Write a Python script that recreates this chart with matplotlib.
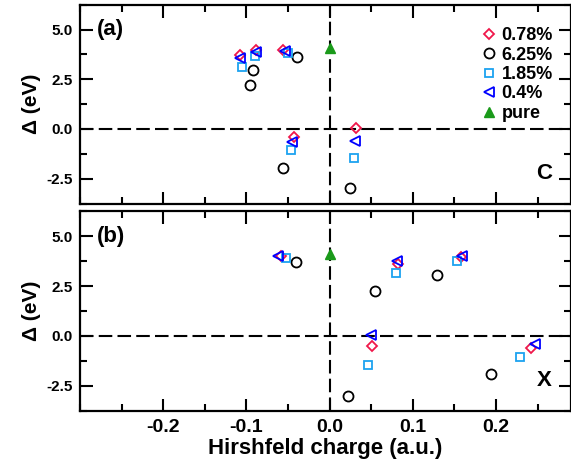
import matplotlib
matplotlib.use("Agg")
import matplotlib.pyplot as plt
from matplotlib.ticker import MultipleLocator

plt.rcParams['font.family'] = ['Liberation Sans', 'DejaVu Sans']
plt.rcParams['font.weight'] = 'bold'

# Panel (a): C
a_x_078 = [-0.108, -0.088, -0.056, -0.043, 0.032]
a_y_078 = [3.72, 3.96, 3.96, -0.38, 0.03]
a_x_625 = [-0.092, -0.096, -0.039, -0.056, 0.024]
a_y_625 = [2.97, 2.19, 3.62, -1.94, -2.97]
a_x_185 = [-0.105, -0.090, -0.050, -0.046, 0.029]
a_y_185 = [3.12, 3.67, 3.82, -1.06, -1.48]
a_x_04 = [-0.108, -0.089, -0.054, -0.045, 0.031]
a_y_04 = [3.55, 3.88, 3.91, -0.66, -0.58]
a_x_pure = [0.0]
a_y_pure = [4.08]

# Panel (b): X
b_x_078 = [-0.059, 0.082, 0.158, 0.051, 0.2415]
b_y_078 = [3.99, 3.59, 3.94, -0.52, -0.60]
b_x_625 = [-0.041, 0.054, 0.129, 0.022, 0.194]
b_y_625 = [3.69, 2.25, 3.03, -2.98, -1.92]
b_x_185 = [-0.053, 0.080, 0.153, 0.046, 0.229]
b_y_185 = [3.89, 3.15, 3.75, -1.46, -1.04]
b_x_04 = [-0.062, 0.081, 0.1595, 0.050, 0.247]
b_y_04 = [4.02, 3.75, 4.00, 0.04, -0.38]
b_x_pure = [0.0]
b_y_pure = [4.12]

labels = ['0.78%', '6.25%', '1.85%', '0.4%', 'pure']
xticks = [-0.2, -0.1, 0.0, 0.1, 0.2]
xticklabels = ['-0.2', '-0.1', '0.0', '0.1', '0.2']
yticks = [-2.5, 0.0, 2.5, 5.0]
yticklabels = ['-2.5', '0.0', '2.5', '5.0']

styles = [
    dict(marker='D', ms=5.5, mfc='none', mec='#f0174a', mew=1.3, ls='none'),
    dict(marker='o', ms=7.2, mfc='none', mec='black', mew=1.3, ls='none'),
    dict(marker='s', ms=6, mfc='none', mec='#1ca3f0', mew=1.3, ls='none'),
    dict(marker='<', ms=7.5, mfc='none', mec='#0000ff', mew=1.3, ls='none'),
    dict(marker='^', ms=6.5, mfc='#1a9a1a', mec='#1a9a1a', mew=1.0, ls='none'),
]

fig = plt.figure(figsize=(5.71, 4.68), dpi=100)
ax1 = fig.add_axes([0.140, 0.565, 0.860, 0.425])
ax2 = fig.add_axes([0.140, 0.122, 0.860, 0.427])

panels = [
    (ax1, [(a_x_078, a_y_078), (a_x_625, a_y_625), (a_x_185, a_y_185), (a_x_04, a_y_04), (a_x_pure, a_y_pure)], '(a)', 'C'),
    (ax2, [(b_x_078, b_y_078), (b_x_625, b_y_625), (b_x_185, b_y_185), (b_x_04, b_y_04), (b_x_pure, b_y_pure)], '(b)', 'X'),
]

for ax, series, tag, elem in panels:
    ax.axhline(0, color='black', lw=1.5, ls=(0, (6.5, 2.5)), zorder=1)
    ax.axvline(0, color='black', lw=1.5, ls=(0, (6.5, 2.5)), zorder=1)
    for (xs, ys), st, lab in zip(series, styles, labels):
        ax.plot(xs, ys, label=lab, zorder=3, **st)
    ax.set_xlim(-0.3, 0.29)
    ax.set_ylim(-3.75, 6.25)
    ax.set_xticks(xticks)
    ax.xaxis.set_minor_locator(MultipleLocator(0.05))
    ax.set_yticks(yticks)
    ax.set_yticklabels(yticklabels)
    ax.yaxis.set_minor_locator(MultipleLocator(1.25))
    ax.tick_params(which='both', direction='in', top=True, right=True, width=1.5)
    ax.tick_params(which='major', length=9)
    ax.tick_params(which='minor', length=5)
    ax.tick_params(axis='y', labelsize=11, pad=5)
    for s in ax.spines.values():
        s.set_linewidth(1.6)
    ax.set_ylabel('Δ (eV)', fontsize=15, fontweight='bold', labelpad=4)
    ax.text(0.035, 0.875, tag, transform=ax.transAxes, fontsize=16,
            fontweight='bold', va='center', ha='left')
    ax.text(0.945, 0.15, elem, transform=ax.transAxes, fontsize=16,
            fontweight='bold', va='center', ha='center')

ax1.tick_params(axis='x', labelbottom=False)
ax2.set_xticklabels(xticklabels)
ax2.tick_params(axis='x', labelsize=14, pad=6)
ax2.set_xlabel('Hirshfeld charge (a.u.)', fontsize=16, fontweight='bold', labelpad=1)

leg = ax1.legend(loc='upper right', bbox_to_anchor=(0.985, 0.94), frameon=False,
                 fontsize=13, handlelength=0.7, handletextpad=0.35,
                 labelspacing=0.13, borderaxespad=0.2)

fig.savefig('out.png', dpi=100)
